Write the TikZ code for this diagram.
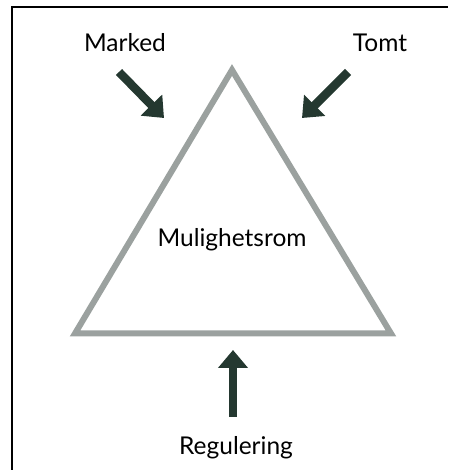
\documentclass[tikz,border=0pt]{standalone}
\usepackage{fontspec}
\setmainfont{Lato}
\usetikzlibrary{arrows.meta}

\definecolor{edgegray}{HTML}{9BA19F}
\definecolor{pushgreen}{HTML}{243830}

\tikzset{
    label/.style={font=\fontsize{24.5}{28}\selectfont, text=black, anchor=base, inner sep=0pt},
    push/.style={line width=8.5pt, draw=pushgreen, -{Triangle[width=29pt,length=18pt]}}
}

\begin{document}
\begin{tikzpicture}[x=1pt,y=1pt]
    \useasboundingbox (0,0) rectangle (448,470);
    \draw[line width=2pt] (12,0) -- (12,462.5) -- (448,462.5);

    % Triangle
    \coordinate (apex) at (232,400);
    \coordinate (bl) at (75,136.5);
    \coordinate (br) at (391,136.5);
    \draw[edgegray, line width=6pt] (apex) -- (br) -- (bl) -- cycle;
    \node[label] (space) at (232,223) {Mulighetsrom};

    % Forces
    \node[label] (marked) at (125,418) {Marked};
    \node[label] (tomt) at (380,418) {Tomt};
    \node[label] (reg) at (236,15) {Regulering};

    \coordinate (m1) at (119,398);
    \coordinate (m2) at (164,352);
    \coordinate (t1) at (348,398);
    \coordinate (t2) at (302,352);
    \coordinate (r1) at (233,53);
    \coordinate (r2) at (233,120);

    \draw[push] (m1) -- (m2);
    \draw[push] (t1) -- (t2);
    \draw[push] (r1) -- (r2);
\end{tikzpicture}
\end{document}
